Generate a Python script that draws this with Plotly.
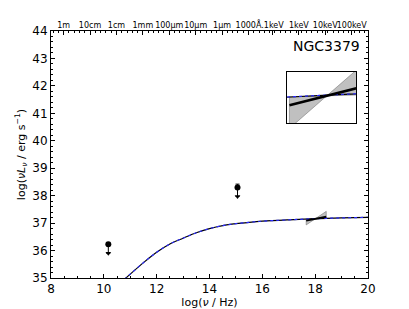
import plotly.graph_objects as go

# ---------------- data ----------------
limit_x = [10.17, 15.06]          # log nu
limit_y = [36.23, 38.30]          # log nuLnu (upper limits)
limit_err_up = [0.0, 0.12]
arrow_len = [0.33, 0.33]

model_x = [10.6, 11.0, 11.5, 12.0, 12.5, 13.0, 13.5, 14.0, 14.5, 15.0, 15.5, 16.0, 17.0, 18.0, 19.0, 20.0]
model_y = [34.80, 35.14, 35.56, 35.94, 36.24, 36.45, 36.65, 36.80, 36.91, 36.98, 37.03, 37.07, 37.12, 37.16, 37.19, 37.21]

# X-ray power-law bowtie
xray_lo, xray_hi = 17.66, 18.42
xray_pivot_x, xray_pivot_y = 18.0, 37.155
xray_slope_best, xray_slope_min, xray_slope_max = 0.19, 0.02, 0.65

top_labels = ["1m", "10cm", "1cm", "1mm", "100µm", "10µm", "1µm", "1000Å", ".1keV", "1keV", "10keV", "100keV"]
top_pos = [8.477, 9.477, 10.477, 11.477, 12.477, 13.477, 14.477, 15.477, 16.383, 17.383, 18.383, 19.383]

x_ticks = [8, 10, 12, 14, 16, 18, 20]
y_ticks = [35, 36, 37, 38, 39, 40, 41, 42, 43, 44]
inset_xrange = [17.635, 18.265]
inset_yrange = [36.968, 37.318]

# ---------------- derived ----------------
def pl(x, s):
    return xray_pivot_y + s * (x - xray_pivot_x)

bow_x = [xray_lo, xray_pivot_x, xray_lo, xray_lo, None,
         xray_hi, xray_pivot_x, xray_hi, xray_hi]
bow_y = [pl(xray_lo, xray_slope_min), xray_pivot_y, pl(xray_lo, xray_slope_max), pl(xray_lo, xray_slope_min), None,
         pl(xray_hi, xray_slope_min), xray_pivot_y, pl(xray_hi, xray_slope_max), pl(xray_hi, xray_slope_min)]
best_x = [xray_lo, xray_hi]
best_y = [pl(xray_lo, xray_slope_best), pl(xray_hi, xray_slope_best)]
tip_y = [y - l for y, l in zip(limit_y, arrow_len)]

FONT = "DejaVu Sans"
fig = go.Figure()

for ax_x, ax_y, lw in [("x", "y", 2.0), ("x2", "y2", 2.6)]:
    fig.add_trace(go.Scatter(x=bow_x, y=bow_y, xaxis=ax_x, yaxis=ax_y, mode="lines",
                             fill="toself", fillcolor="rgba(165,165,165,0.7)",
                             line=dict(color="rgba(120,120,120,1)", width=0.6),
                             hoverinfo="skip", showlegend=False))
    fig.add_trace(go.Scatter(x=model_x, y=model_y, xaxis=ax_x, yaxis=ax_y, mode="lines",
                             line=dict(color="black", width=1.2, shape="spline"), showlegend=False))
    fig.add_trace(go.Scatter(x=model_x, y=model_y, xaxis=ax_x, yaxis=ax_y, mode="lines",
                             line=dict(color="#2a2aff", width=1.2, dash="3px,3px", shape="spline"),
                             showlegend=False))
    fig.add_trace(go.Scatter(x=best_x, y=best_y, xaxis=ax_x, yaxis=ax_y, mode="lines",
                             line=dict(color="black", width=lw), showlegend=False))

# upper-limit points: cap above, stem down to arrow head
fig.add_trace(go.Scatter(x=limit_x, y=limit_y, mode="markers",
                         marker=dict(color="black", size=6),
                         error_y=dict(type="data", array=limit_err_up, arrayminus=arrow_len,
                                      color="black", thickness=1, width=2),
                         showlegend=False))
fig.add_trace(go.Scatter(x=limit_x, y=tip_y, mode="markers",
                         marker=dict(color="black", size=5, symbol="triangle-down"),
                         showlegend=False))
# top axis dummy trace
fig.add_trace(go.Scatter(x=[top_pos[0]], y=[limit_y[0]], xaxis="x3", mode="markers",
                         marker=dict(opacity=0), hoverinfo="skip", showlegend=False))

fig.add_annotation(text="NGC3379", xref="paper", yref="paper", x=0.981, y=0.939,
                   xanchor="right", yanchor="middle", showarrow=False,
                   font=dict(family=FONT, size=14, color="black", weight="normal"))

axis_common = dict(showgrid=False, zeroline=False, linecolor="black", linewidth=1,
                   ticks="inside", tickcolor="black", ticklen=4, automargin=False,
                   tickfont=dict(family=FONT, size=12, color="black"))

fig.update_layout(
    width=409, height=309, autosize=False,
    margin=dict(l=51, r=41, t=31, b=31),
    paper_bgcolor="white", plot_bgcolor="white",
    font=dict(family=FONT, color="black"),
    xaxis=dict(range=[8, 20], tickvals=x_ticks, mirror=True, showline=True,
               minor=dict(dtick=0.5, tick0=8, ticks="inside", ticklen=2, tickcolor="black"),
               title=dict(text="log(<i>ν</i> / Hz)", font=dict(family=FONT, size=11), standoff=1),
               **axis_common),
    yaxis=dict(range=[35, 44], tickvals=y_ticks, mirror="ticks", showline=True,
               minor=dict(dtick=0.2, tick0=35, ticks="inside", ticklen=2, tickcolor="black"),
               title=dict(text="log(<i>νL</i><sub><i>ν</i></sub> / erg s<sup>−1</sup>)",
                          font=dict(family=FONT, size=11), standoff=4),
               **axis_common),
    xaxis3=dict(range=[8, 20], overlaying="x", side="top", anchor="y", automargin=False,
                tickvals=top_pos, ticktext=top_labels, showline=False, showgrid=False,
                zeroline=False, ticks="inside", ticklen=4, tickcolor="black",
                minor=dict(dtick=0.2, tick0=8.477, ticks="inside", ticklen=2, tickcolor="black"),
                tickfont=dict(family=FONT, size=8, color="black"), tickangle=0),
    xaxis2=dict(domain=[0.7435, 0.962], anchor="y2", range=inset_xrange, automargin=False,
                showticklabels=False, ticks="", showgrid=False, zeroline=False,
                showline=True, mirror=True, linecolor="black", linewidth=1),
    yaxis2=dict(domain=[0.626, 0.835], anchor="x2", range=inset_yrange, automargin=False,
                showticklabels=False, ticks="", showgrid=False, zeroline=False,
                showline=True, mirror=True, linecolor="black", linewidth=1),
)

fig.write_html("out.html", config={"displayModeBar": False},
               post_script="document.body.style.margin='0px';document.body.style.padding='0px';")
